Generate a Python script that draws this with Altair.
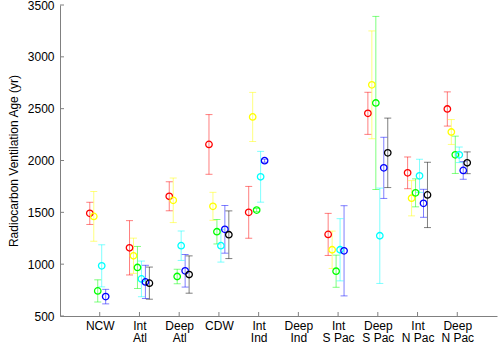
import altair as alt
import pandas as pd
import numpy as np

categories = ["NCW", "Int|Atl", "Deep|Atl", "CDW", "Int|Ind", "Deep|Ind",
              "Int|S Pac", "Deep|S Pac", "Int|N Pac", "Deep|N Pac"]

series_names = ["red", "yellow", "green", "cyan", "blue", "black"]
series_colors = ["#ff0000", "#ffff00", "#00ff00", "#00ffff", "#0000ff", "#000000"]
series_offsets = [-0.25, -0.15, -0.05, 0.05, 0.15, 0.25]

N = None
red_age = [1490, 1158, 1655, 2155, 1500, N, 1287, 2455, 1881, 2497]
red_err = [107, 262, 140, 288, 250, N, 203, 203, 153, 165]
yellow_age = [1461, 1081, 1616, 1558, 2420, N, 1139, 2730, 1636, 2275]
yellow_err = [240, 170, 215, 135, 237, N, 180, 520, 170, 120]
green_age = [742, 968, 881, 1313, 1522, N, 932, 2555, 1688, 2055]
green_err = [107, 203, 70, 118, 15, N, 155, 835, 135, 180]
cyan_age = [984, 858, 1178, 1178, 1843, N, 1139, 1274, 1852, 2055]
cyan_err = [203, 172, 142, 158, 245, N, 300, 460, 160, 75]
blue_age = [687, 829, 936, 1336, 1998, N, 1129, 1929, 1587, 1904]
blue_err = [70, 160, 157, 230, 15, N, 435, 295, 135, 85]
black_age = [N, 817, 900, 1284, N, N, N, 2074, 1668, 1978]
black_err = [N, 155, 180, 230, N, N, N, 335, 315, 105]

ages = [red_age, yellow_age, green_age, cyan_age, blue_age, black_age]
errs = [red_err, yellow_err, green_err, cyan_err, blue_err, black_err]

y_ticks = [500, 1000, 1500, 2000, 2500, 3000, 3500]

rows = []
for s, off, a_list, e_list in zip(series_names, series_offsets, ages, errs):
    for i, (a, e) in enumerate(zip(a_list, e_list)):
        if a is None:
            continue
        rows.append({"series": s, "pos": i + 1 + off, "age": a,
                     "lo": a - e, "hi": a + e})
df = pd.DataFrame(rows)

FONT = "Liberation Sans"
W, H = 437, 311

label_arr = "[''," + ",".join("'" + c + "'" for c in categories) + ",'']"
x_scale = alt.Scale(domain=[0, 11], nice=False, zero=False)
y_scale = alt.Scale(domain=[500, 3500], nice=False, zero=False)
color = alt.Color("series:N", scale=alt.Scale(domain=series_names, range=series_colors), legend=None)

x_axis = alt.Axis(values=list(range(1, 11)), labelExpr="split(" + label_arr + "[datum.value], '|')",
                  tickSize=0, labelPadding=4, labelFont=FONT, labelFontSize=12,
                  labelColor="black", labelLineHeight=12.5, domainColor="#808080",
                  grid=False, title=None, labelAlign="center", labelBaseline="top")
y_axis = alt.Axis(values=y_ticks, format="d", tickSize=0, labelPadding=6, labelFont=FONT,
                  labelFontSize=12, labelColor="black", domainColor="#808080", grid=False,
                  title="Radiocarbon Ventilation Age (yr)", titleFont=FONT, titleFontSize=12,
                  titleFontWeight="normal", titleColor="black", titlePadding=7)

base = alt.Chart(df)

bars = base.mark_rule(strokeWidth=1, opacity=0.5).encode(
    x=alt.X("pos:Q", scale=x_scale, axis=x_axis),
    y=alt.Y("lo:Q", scale=y_scale, axis=y_axis),
    y2="hi:Q",
    color=color,
)
cap_lo = base.mark_tick(orient="horizontal", size=7, thickness=1, opacity=0.5).encode(
    x=alt.X("pos:Q", scale=x_scale), y=alt.Y("lo:Q", scale=y_scale), color=color)
cap_hi = base.mark_tick(orient="horizontal", size=7, thickness=1, opacity=0.5).encode(
    x=alt.X("pos:Q", scale=x_scale), y=alt.Y("hi:Q", scale=y_scale), color=color)
pts = base.mark_point(shape="circle", filled=False, size=42, strokeWidth=1.3, opacity=1).encode(
    x=alt.X("pos:Q", scale=x_scale), y=alt.Y("age:Q", scale=y_scale), color=color)

xt = alt.Chart(pd.DataFrame({"k": list(range(1, 11))})).mark_rule(color="#808080").encode(
    x=alt.X("k:Q", scale=x_scale), y=alt.value(H), y2=alt.value(H - 4))
yt = alt.Chart(pd.DataFrame({"t": y_ticks})).mark_rule(color="#808080").encode(
    y=alt.Y("t:Q", scale=y_scale), x=alt.value(0), x2=alt.value(4))

chart = alt.layer(bars, cap_lo, cap_hi, pts, xt, yt).properties(
    width=W, height=H,
    autosize=alt.AutoSizeParams(type="none"),
    padding={"left": 60, "top": 5, "right": 3, "bottom": 29},
).configure_view(stroke=None).configure_axis(domainWidth=1)

chart.save("out.html", embed_options={"renderer": "svg", "actions": False})
